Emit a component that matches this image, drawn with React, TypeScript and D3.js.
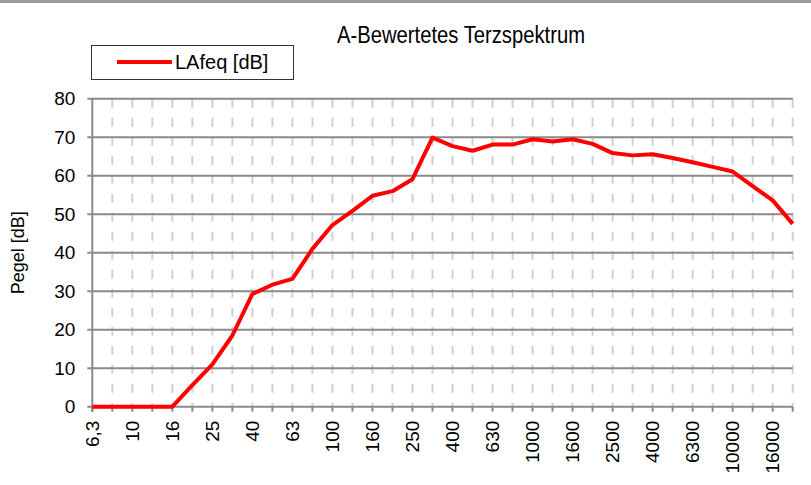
import React, { useEffect, useRef } from "react";
import * as d3 from "d3";

const categories = ["6,3","8","10","12,5","16","20","25","31,5","40","50","63","80","100","125","160","200","250","315","400","500","630","800","1000","1250","1600","2000","2500","3150","4000","5000","6300","8000","10000","12500","16000","20000"];
const lafeq = [0,0,0,0,0,5.6,11.0,18.5,29.3,31.7,33.2,41.0,47.2,50.9,54.8,56.0,59.1,69.9,67.7,66.5,68.1,68.1,69.5,68.9,69.5,68.3,65.9,65.3,65.6,64.6,63.5,62.3,61.1,57.3,53.6,47.5];
const yTicks = [0,10,20,30,40,50,60,70,80];

const W = 811, H = 485;
const L = 92.3, R = 792.7, T = 98.8, B = 406.7;

export default function App() {
  const ref = useRef<SVGSVGElement>(null);
  useEffect(() => {
    const svg = d3.select(ref.current);
    svg.selectAll("*").remove();
    const x = d3.scalePoint<string>().domain(categories).range([L, R]);
    const y = d3.scaleLinear().domain([0, 80]).range([B, T]);
    const font = "'Liberation Sans', Arial, sans-serif";

    svg.append("rect").attr("x", 0).attr("y", 0).attr("width", W).attr("height", H).attr("fill", "#fff");
    svg.append("line").attr("x1", 0).attr("x2", W).attr("y1", 1.5).attr("y2", 1.5).attr("stroke", "#9a9a9a").attr("stroke-width", 3);

    // vertical dashed gridlines
    svg.append("g").selectAll("line").data(categories.slice(1)).join("line")
      .attr("x1", d => x(d)!).attr("x2", d => x(d)!)
      .attr("y1", T).attr("y2", B)
      .attr("stroke", "#d0d0d0").attr("stroke-width", 2).attr("stroke-dasharray", "9,10");

    // horizontal gridlines
    svg.append("g").selectAll("line").data(yTicks.slice(1)).join("line")
      .attr("x1", L - 5).attr("x2", R).attr("y1", d => y(d)).attr("y2", d => y(d))
      .attr("stroke", "#8a8a8a").attr("stroke-width", 2);

    // axes
    svg.append("line").attr("x1", L).attr("x2", L).attr("y1", T).attr("y2", B + 5).attr("stroke", "#8a8a8a").attr("stroke-width", 2);
    svg.append("line").attr("x1", L - 5).attr("x2", R).attr("y1", B).attr("y2", B).attr("stroke", "#8a8a8a").attr("stroke-width", 2);
    svg.append("g").selectAll("line").data(categories).join("line")
      .attr("x1", d => x(d)!).attr("x2", d => x(d)!).attr("y1", B).attr("y2", B + 5)
      .attr("stroke", "#8a8a8a").attr("stroke-width", 2);

    // y labels
    svg.append("g").selectAll("text").data(yTicks).join("text")
      .attr("x", L - 17).attr("y", d => y(d)).attr("dy", "0.35em")
      .attr("text-anchor", "end").attr("font-family", font).attr("font-size", 19).attr("fill", "#000")
      .text(d => d);

    // x labels
    svg.append("g").selectAll("text").data(categories.filter((_, i) => i % 2 === 0)).join("text")
      .attr("transform", d => `translate(${x(d)!},${B + 14}) rotate(-90)`)
      .attr("dy", "0.35em")
      .attr("text-anchor", "end").attr("font-family", font).attr("font-size", 19).attr("fill", "#000")
      .text(d => d);

    // y title
    svg.append("text").attr("transform", `translate(24,${(T + B) / 2}) rotate(-90)`)
      .attr("text-anchor", "middle").attr("font-family", font).attr("font-size", 18).text("Pegel [dB]");

    // title
    svg.append("text").attr("x", 337).attr("y", 43)
      .attr("font-family", font).attr("font-size", 23)
      .attr("textLength", 248).attr("lengthAdjust", "spacingAndGlyphs")
      .text("A-Bewertetes Terzspektrum");

    // line
    const line = d3.line<number>().x((_, i) => x(categories[i])!).y(d => y(d));
    svg.append("path").datum(lafeq).attr("d", line).attr("fill", "none")
      .attr("stroke", "#ff0000").attr("stroke-width", 4).attr("stroke-linejoin", "round");

    // legend
    const lg = svg.append("g");
    lg.append("rect").attr("x", 91.5).attr("y", 45.5).attr("width", 202).attr("height", 34)
      .attr("fill", "#fff").attr("stroke", "#333").attr("stroke-width", 1);
    lg.append("line").attr("x1", 117).attr("x2", 172).attr("y1", 62).attr("y2", 62)
      .attr("stroke", "#ff0000").attr("stroke-width", 4);
    lg.append("text").attr("x", 175).attr("y", 62).attr("dy", "0.35em")
      .attr("font-family", font).attr("font-size", 20).text("LAfeq [dB]");
  }, []);
  return (
    <svg ref={ref} width={W} height={H} style={{ position: "fixed", left: 0, top: 0 }} />
  );
}
